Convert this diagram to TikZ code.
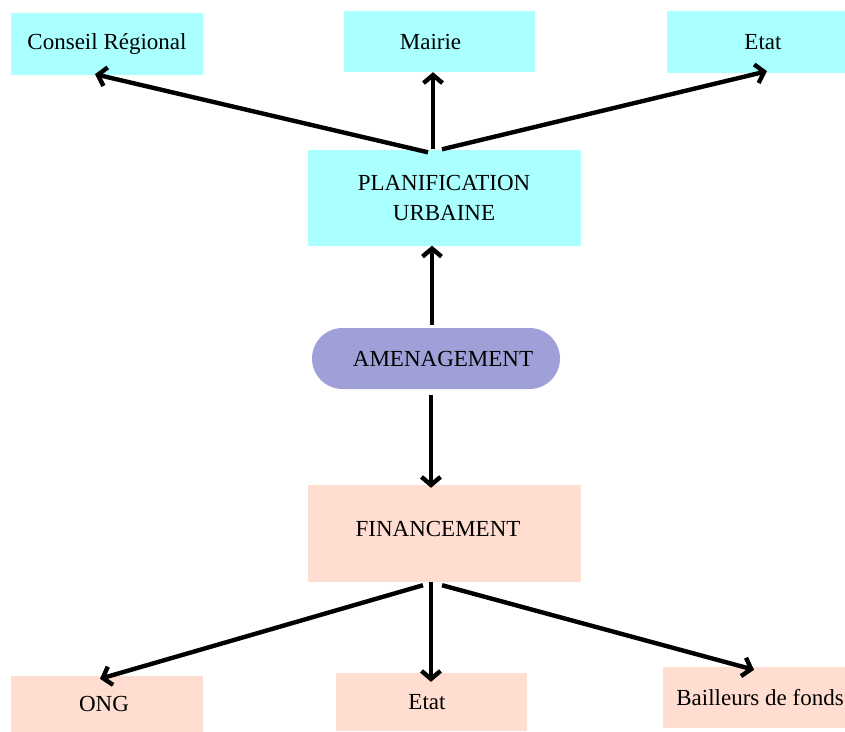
\documentclass[tikz,border=0pt]{standalone}
\usepackage{fontspec}
\setmainfont{Liberation Serif}
\usetikzlibrary{arrows.meta,calc,shapes.misc}
\definecolor{cyanbox}{RGB}{170,255,255}
\definecolor{peachbox}{RGB}{255,221,208}
\definecolor{purplebox}{RGB}{160,160,216}
\begin{document}
\begin{tikzpicture}[x=1pt,y=-1pt,
  box/.style={rectangle,inner sep=0pt,align=center,font=\fontsize{23}{30}\selectfont},
  cbox/.style={box,fill=cyanbox},
  pbox/.style={box,fill=peachbox},
  conn/.style={line width=4.4pt,-{Straight Barb[length=8pt,width=19pt]}}]
\useasboundingbox (0,0) rectangle (845,731);
% top row
\node[cbox,minimum width=192pt,minimum height=62pt] (cr) at (107,44) {\raisebox{4pt}{Conseil Régional}};
\node[cbox,minimum width=191pt,minimum height=61pt] (mairie) at (439.5,41.5) {\hspace*{-18pt}Mairie};
\node[cbox,minimum width=178pt,minimum height=62pt] (etatA) at (756,42) {\hspace*{14pt}Etat};
% middle
\node[cbox,minimum width=273pt,minimum height=96pt] (plan) at (444,197.5) {PLANIFICATION\\URBAINE};
\node[box,fill=purplebox,rounded rectangle,minimum width=248pt,minimum height=61pt] (amen) at (436,358.5) {\hspace*{14pt}AMENAGEMENT};
\node[pbox,minimum width=273pt,minimum height=97pt] (fin) at (444.5,533.5) {\raisebox{10pt}{\hspace*{-13pt}FINANCEMENT}};
% bottom row
\node[pbox,minimum width=192pt,minimum height=56pt] (ong) at (107,704) {\raisebox{-6pt}{\hspace*{-6pt}ONG}};
\node[pbox,minimum width=191pt,minimum height=58pt] (etatB) at (431.5,702) {\raisebox{-2pt}{\hspace*{-9pt}Etat}};
\node[pbox,minimum width=182pt,minimum height=61pt] (bail) at (754,697.5) {\hspace*{12pt}\raisebox{-4pt}{Bailleurs de fonds}};
% connectors
\draw[conn] ($(plan.north)+(-16,3)$) -- ($(cr.south)+(-12,-1)$);
\draw[conn] ($(plan.north)+(-11,0)$) -- ($(mairie.south)+(-6.5,0)$);
\draw[conn] ($(plan.north)+(-2,0)$) -- ($(etatA.south)+(11,-2)$);
\draw[conn] ($(amen.north)+(-4,-3)$) -- ($(plan.south)+(-12,0)$);
\draw[conn] ($(amen.south)+(-5,6)$) -- ($(fin.north)+(-13.5,3)$);
\draw[conn] ($(fin.south)+(-21.5,3)$) -- ($(ong.north)+(-7,3)$);
\draw[conn] ($(fin.south)+(-13.5,0)$) -- ($(etatB.north)+(-0.5,9)$);
\draw[conn] ($(fin.south)+(-2.5,3)$) -- ($(bail.north)+(0,3)$);
\end{tikzpicture}
\end{document}
